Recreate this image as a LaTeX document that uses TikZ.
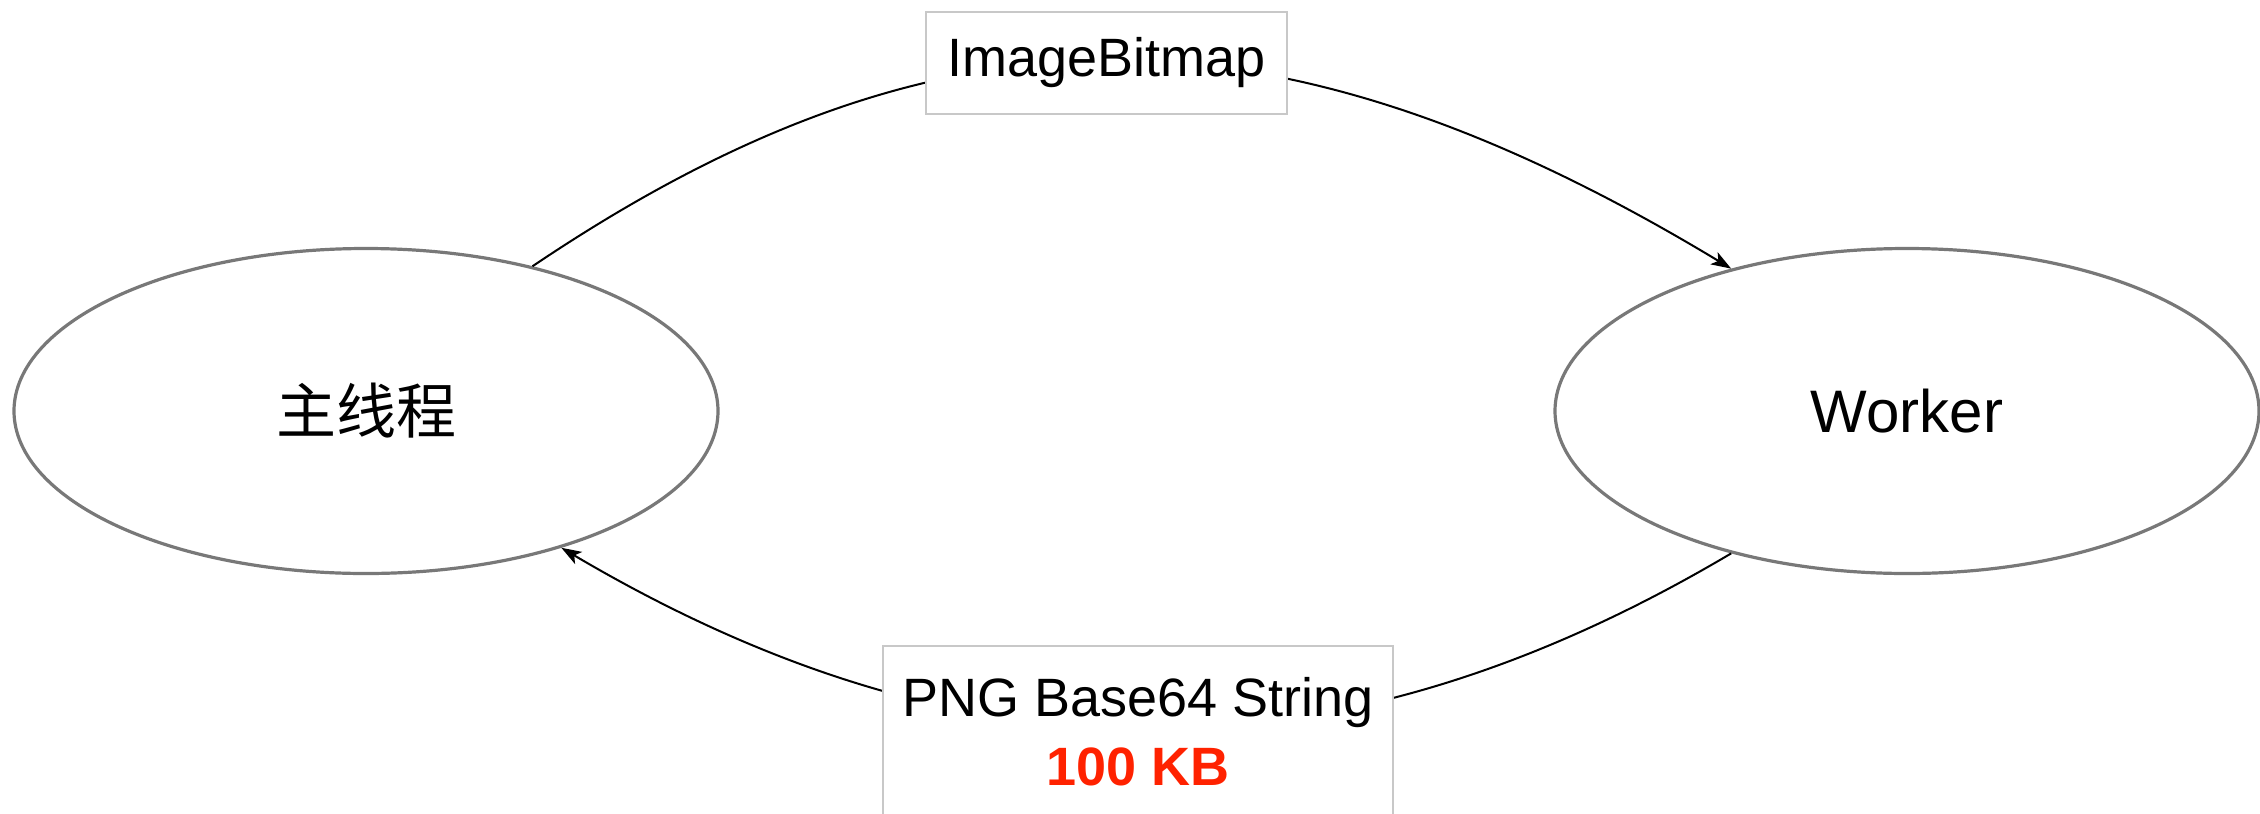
\documentclass[tikz,border=0pt]{standalone}
\usepackage{fontspec}
\setmainfont{Liberation Sans}
\newfontfamily\cjk{Noto Sans CJK SC}
\usetikzlibrary{shapes.geometric,arrows.meta}

\definecolor{ringgray}{RGB}{120,120,120}
\definecolor{boxgray}{RGB}{200,200,200}
\definecolor{sizered}{RGB}{255,34,0}

\tikzset{
  thread/.style={ellipse, draw=ringgray, line width=1.6pt, fill=white,
    minimum width=352pt, minimum height=162.5pt, inner sep=0pt,
    font=\fontsize{30pt}{36pt}\selectfont},
  msgbox/.style={rectangle, draw=boxgray, line width=0.8pt, fill=white,
    inner sep=0pt, align=center,
    font=\fontsize{27pt}{34.5pt}\selectfont},
  link/.style={draw=black, line width=1pt,
    -{Stealth[length=10pt,width=7pt,inset=2.5pt]}},
}

\begin{document}
\begin{tikzpicture}[x=0.5pt,y=-0.5pt]
  \useasboundingbox (0,0) rectangle (2260,814);

  % the two threads
  \node[thread] (main) at (366,411) {\cjk 主线程};
  \node[thread] (worker) at (1907,411) {Worker};

  % messages passed between them
  \draw[link] (main.41) .. controls (935,-5) and (1270,-10) .. (worker.141);
  \draw[link] (worker.219) .. controls (1332,790) and (963,785) .. (main.325);

  % payload labels sitting on the connectors
  \node[msgbox, minimum width=180.5pt, minimum height=51pt]
    (bitmap) at (1106.5,63) {ImageBitmap};
  \node[msgbox, minimum width=255pt, minimum height=86pt]
    (payload) at (1138,732) {PNG Base64 String\\{\bfseries\color{sizered}100 KB}};
\end{tikzpicture}
\end{document}
